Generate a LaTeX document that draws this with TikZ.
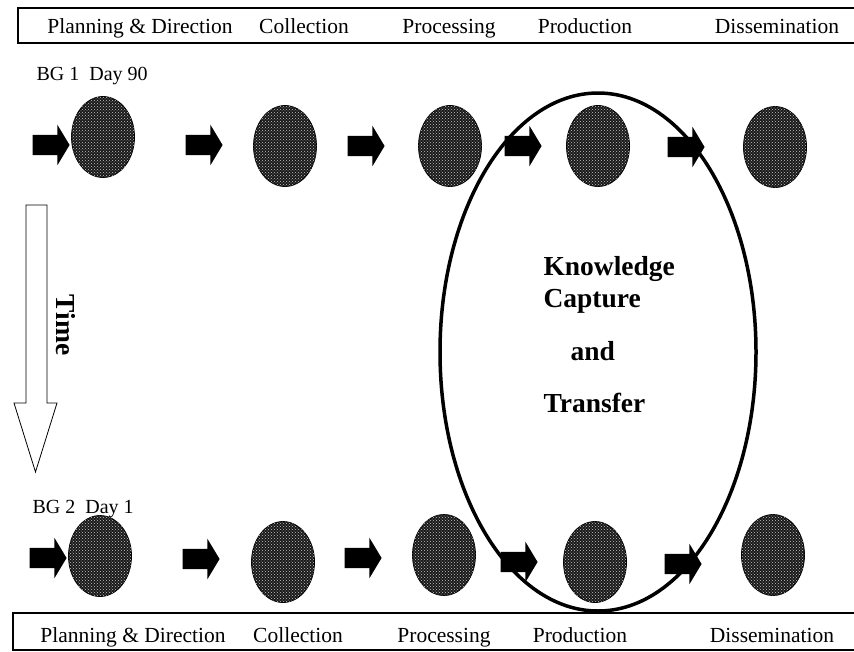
\documentclass[tikz,border=0pt]{standalone}
\usepackage{fontspec}
\setmainfont{Liberation Serif}
\usetikzlibrary{shapes,patterns}

\begin{document}
\begin{tikzpicture}[x=1pt,y=-1pt,
            blob/.style={ellipse,draw,line width=.8pt,fill=black!90,minimum width=63pt,minimum height=81pt,inner sep=0pt,
                         postaction={pattern=crosshatch dots,pattern color=gray!45}},
            blk/.style={single arrow,fill=black,inner xsep=0pt,inner ysep=10pt,minimum height=37pt,
                        single arrow head extend=10pt,single arrow tip angle=118},
            phase/.style={anchor=base,font=\fontsize{21.5}{24}\selectfont},
            day/.style={anchor=base west,font=\fontsize{20}{24}\selectfont},
            kct/.style={anchor=base west,font=\fontsize{27.5}{30}\selectfont\bfseries},
            frame/.style={draw,line width=1.6pt}
          ]
          \useasboundingbox (0,0) rectangle (854,651);

          %phase bars
          \path[frame] (854,8) -- (18,8) -- (18,43) -- (854,43);
          \path[frame] (854,613) -- (13,613) -- (13,650) -- (854,650);
          \node[phase] (h1) at (140,33) {Planning \& Direction};
          \node[phase] (h2) at (304,33) {Collection};
          \node[phase] (h3) at (449,33) {Processing};
          \node[phase] (h4) at (585,33) {Production};
          \node[phase] (h5) at (777,33) {Dissemination};
          \node[phase] (f1) at (133,642) {Planning \& Direction};
          \node[phase] (f2) at (298,642) {Collection};
          \node[phase] (f3) at (444,642) {Processing};
          \node[phase] (f4) at (580,642) {Production};
          \node[phase] (f5) at (772,642) {Dissemination};

          %labels
          \node[day] (bg1) at (33,80) {BG 1\ \ Day 90};
          \node[day] (bg2) at (29,513) {BG 2\ \ Day 1};

          %battle group 1
          \node[blk] (a11) at (48,145) {};
          \node[blob] (11) at (103,137) {};
          \node[blk] (a12) at (201,145) {};
          \node[blob] (12) at (285,146) {};
          \node[blk] (a13) at (363,146) {};
          \node[blob] (13) at (450,146) {};
          \node[blk] (a14) at (520,146) {};
          \node[blob] (14) at (598,146) {};
          \node[blk] (a15) at (683,147) {};
          \node[blob] (15) at (775,147) {};

          %battle group 2
          \node[blk] (a21) at (45,558) {};
          \node[blob] (21) at (100,556) {};
          \node[blk] (a22) at (198,559) {};
          \node[blob] (22) at (283,562) {};
          \node[blk] (a23) at (360,558) {};
          \node[blob] (23) at (444,555) {};
          \node[blk] (a24) at (516,562) {};
          \node[blob] (24) at (595,562) {};
          \node[blk] (a25) at (680,564) {};
          \node[blob] (25) at (773,555) {};

          %time
          \draw[line width=.8pt,fill=white] (26,205) -- (47,205) -- (47,403) -- (57,403) -- (35.5,472)
                -- (14,403) -- (26,403) -- cycle;
          \node[font=\fontsize{27.5}{30}\selectfont\bfseries,rotate=-90] (time) at (66,325) {Time};

          %knowledge
          \node[ellipse,draw,line width=3.5pt,minimum width=316pt,minimum height=518pt] (kc) at (598,352) {};
          \node[kct] (k1) at (540,275) {Knowledge};
          \node[kct] (k2) at (540,307) {Capture};
          \node[kct] (k3) at (567,360) {and};
          \node[kct] (k4) at (540,412) {Transfer};
      \end{tikzpicture}
\end{document}
